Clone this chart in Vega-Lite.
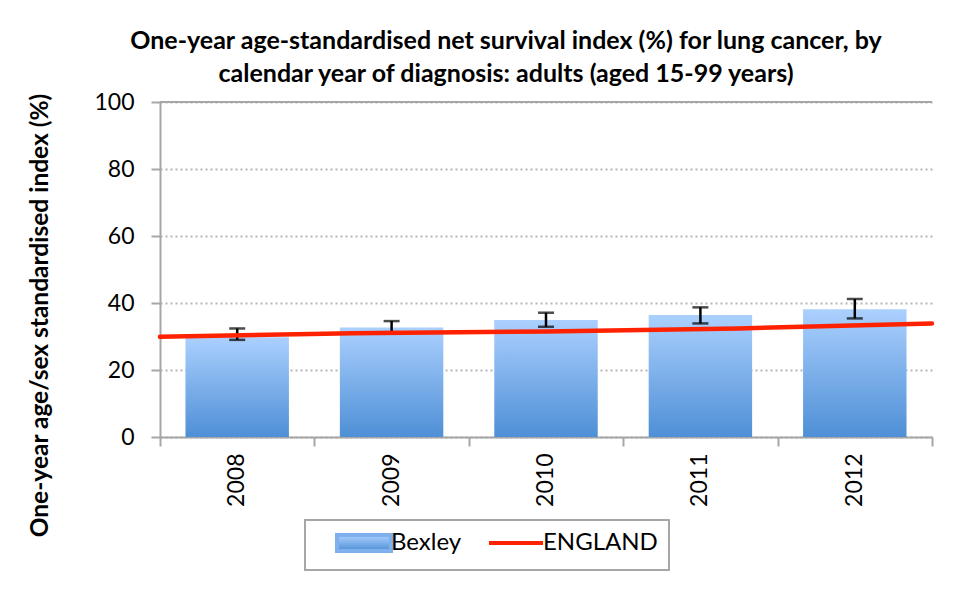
{
  "$schema": "https://vega.github.io/schema/vega-lite/v6.json",
  "width": 772,
  "height": 335,
  "autosize": "none",
  "padding": {"left": 160, "top": 102, "right": 28, "bottom": 155},
  "background": "white",
  "config": {
    "font": "Lato",
    "view": {"stroke": null},
    "axis": {"labelFont": "Lato", "titleFont": "Lato", "labelColor": "black", "titleColor": "black"}
  },
  "title": {
    "text": ["One-year age-standardised net survival index (%) for lung cancer, by", "calendar year of diagnosis: adults (aged 15-99 years)"],
    "font": "Lato",
    "fontSize": 25,
    "fontWeight": "bold",
    "lineHeight": 33,
    "anchor": "middle",
    "frame": "group",
    "dx": -40,
    "offset": 4,
    "color": "black"
  },
  "data": {
    "values": [
      {"Year": "2008", "Bexley": 29.8, "lo": 29.0, "hi": 32.4, "England": 29.9},
      {"Year": "2009", "Bexley": 32.7, "lo": 31.3, "hi": 34.6, "England": 31.0},
      {"Year": "2010", "Bexley": 34.9, "lo": 32.9, "hi": 37.1, "England": 31.5},
      {"Year": "2011", "Bexley": 36.4, "lo": 33.9, "hi": 38.7, "England": 32.4},
      {"Year": "2012", "Bexley": 38.1, "lo": 35.4, "hi": 41.2, "England": 33.9}
    ]
  },
  "layer": [
    {
      "layer": [
        {
          "mark": {
            "type": "bar",
            "color": {
              "gradient": "linear",
              "x1": 0, "y1": 0, "x2": 0, "y2": 1,
              "stops": [
                {"offset": 0, "color": "#abd0fe"},
                {"offset": 1, "color": "#4e8fd6"}
              ]
            }
          },
          "encoding": {
            "x": {
              "field": "Year",
              "type": "ordinal",
              "scale": {"type": "band", "paddingInner": 0.33, "paddingOuter": 0.165},
              "axis": {
                "title": null,
                "labelAngle": -90,
                "labelFontSize": 23,
                "labelPadding": 16,
                "ticks": false,
                "tickSize": 0,
                "domainColor": "#a6a6a6",
                "domainWidth": 2,
                "grid": false
              }
            },
            "y": {
              "field": "Bexley",
              "type": "quantitative",
              "scale": {"domain": [0, 100]},
              "axis": {
                "title": "One-year age/sex standardised index (%)",
                "titleFontSize": 24.5,
                "titleFontWeight": "bold",
                "titleAngle": -90,
                "titleX": -120,
                "titleY": 213,
                "titleAlign": "center",
                "titleBaseline": "middle",
                "values": [0, 20, 40, 60, 80, 100],
                "labelFontSize": 23,
                "labelPadding": 17,
                "tickSize": 9,
                "tickColor": "#a6a6a6",
                "tickWidth": 2,
                "domainColor": "#a6a6a6",
                "domainWidth": 2,
                "grid": true,
                "gridColor": "#b5b5b5",
                "gridWidth": 2,
                "gridDash": [2, 3]
              }
            }
          }
        },
        {
          "mark": {"type": "rule", "color": "#a6a6a6", "strokeWidth": 2},
          "encoding": {"y": {"datum": 100}}
        },
        {
          "mark": {
            "type": "errorbar",
            "ticks": {"size": 16, "thickness": 2.5, "color": "black"},
            "rule": {"strokeWidth": 2.5, "color": "black"}
          },
          "encoding": {
            "x": {"field": "Year", "type": "ordinal"},
            "y": {"field": "lo", "type": "quantitative", "title": "One-year age/sex standardised index (%)"},
            "y2": {"field": "hi"}
          }
        }
      ]
    },
    {
      "mark": {"type": "point", "opacity": 0},
      "encoding": {
        "x": {
          "field": "Year",
          "type": "quantitative",
          "scale": {"domain": [2007.5, 2012.5], "nice": false, "zero": false},
          "axis": {
            "orient": "bottom",
            "title": null,
            "values": [2007.5, 2008.5, 2009.5, 2010.5, 2011.5, 2012.5],
            "labels": false,
            "domain": false,
            "grid": false,
            "ticks": true,
            "tickSize": 9,
            "tickWidth": 2,
            "tickColor": "#a6a6a6"
          }
        },
        "y": {"field": "England", "type": "quantitative", "title": "One-year age/sex standardised index (%)"}
      }
    },
    {
      "mark": {"type": "line", "strokeWidth": 4.5, "strokeCap": "round"},
      "encoding": {
        "x": {
          "field": "Year",
          "type": "ordinal",
          "scale": {"type": "point", "padding": 0},
          "axis": null
        },
        "y": {"field": "England", "type": "quantitative", "title": "One-year age/sex standardised index (%)"},
        "color": {
          "datum": "ENGLAND",
          "type": "nominal",
          "scale": {"domain": ["Bexley", "ENGLAND"], "range": ["#7fb0ee", "#ff2200"]},
          "legend": {
            "title": null,
            "orient": "none",
            "legendX": 145,
            "legendY": 418,
            "direction": "horizontal",
            "labelFont": "Lato",
            "labelFontSize": 24,
            "labelColor": "black",
            "labelOffset": 32,
            "symbolOffset": 19,
            "columnPadding": 6,
            "padding": 11,
            "symbolSize": 400,
            "strokeColor": "#a6a6a6",
            "fillColor": "white",
            "encode": {
              "legend": {"update": {"strokeWidth": {"value": 2}}},
              "symbols": {
                "update": {
                  "shape": {"signal": "datum.value === 'Bexley' ? 'M-1,-0.8H4.4V0.8H-1Z' : 'M-1,-0.8M-1,0.8M-1,0H4.4'"},
                  "fill": {"value": {"gradient": "linear", "x1": 0, "y1": 0, "x2": 0, "y2": 1, "stops": [{"offset": 0, "color": "#abd0fe"}, {"offset": 1, "color": "#4e8fd6"}]}},
                  "stroke": {"signal": "datum.value === 'Bexley' ? 'transparent' : '#ff2200'"},
                  "strokeWidth": {"value": 4},
                  "opacity": {"value": 1}
                }
              }
            }
          }
        }
      }
    }
  ],
  "resolve": {"scale": {"x": "independent"}}
}
